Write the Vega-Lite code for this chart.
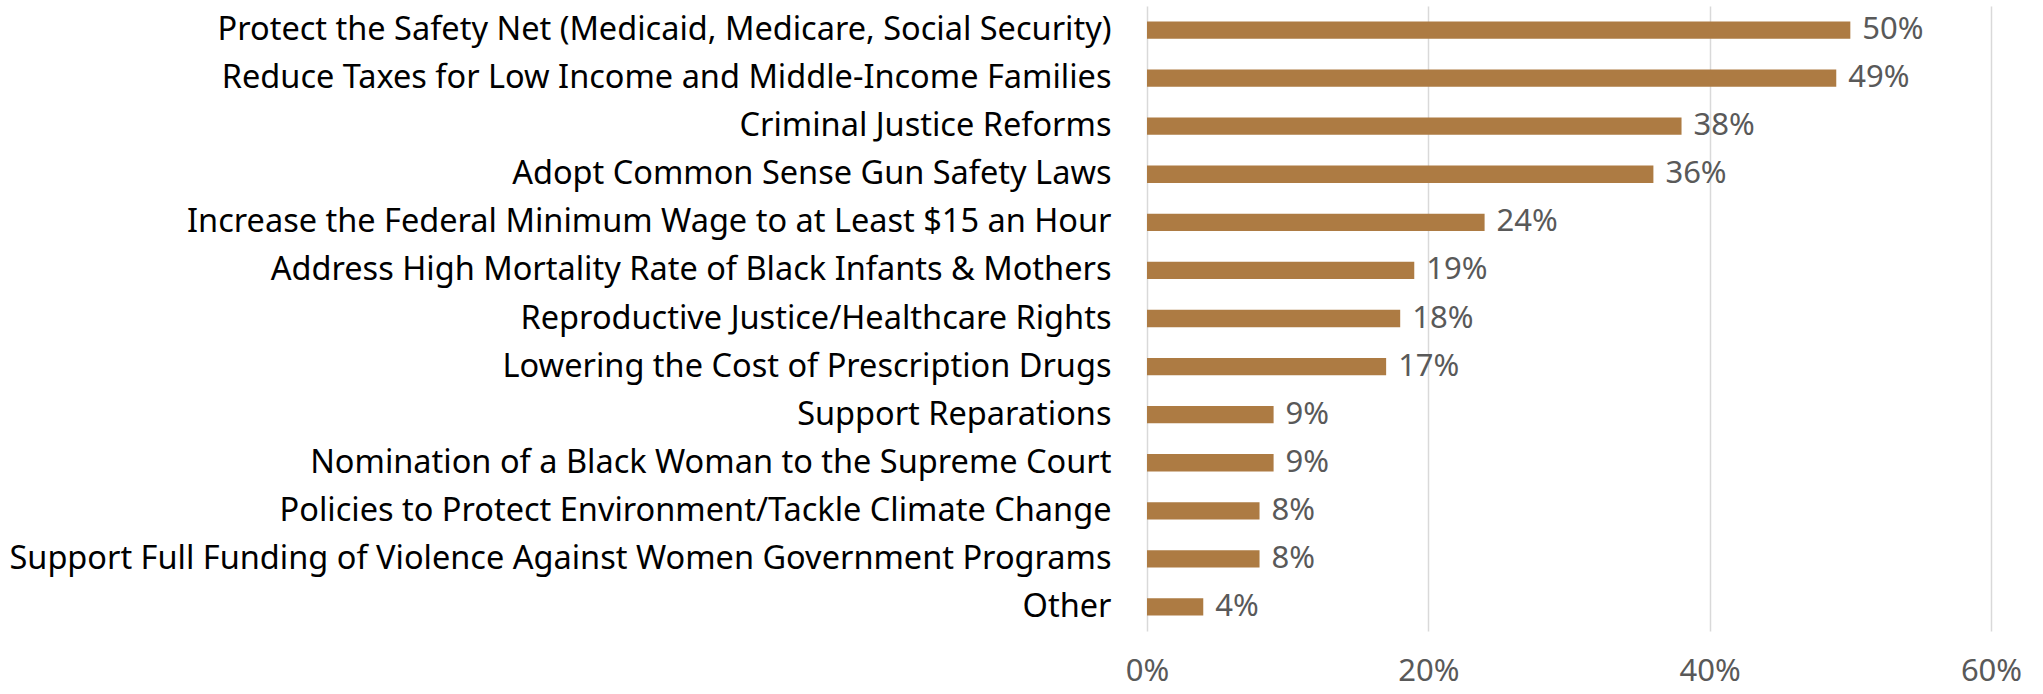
{
  "$schema": "https://vega.github.io/schema/vega-lite/v6.json",
  "autosize": {"type": "none"},
  "width": 844,
  "height": 625,
  "padding": {"left": 1147, "top": 6, "right": 52, "bottom": 63},
  "background": "white",
  "data": {"values": [
    {"issue": "Protect the Safety Net (Medicaid, Medicare, Social Security)", "pct": 0.50},
    {"issue": "Reduce Taxes for Low Income and Middle-Income Families", "pct": 0.49},
    {"issue": "Criminal Justice Reforms", "pct": 0.38},
    {"issue": "Adopt Common Sense Gun Safety Laws", "pct": 0.36},
    {"issue": "Increase the Federal Minimum Wage to at Least $15 an Hour", "pct": 0.24},
    {"issue": "Address High Mortality Rate of Black Infants & Mothers", "pct": 0.19},
    {"issue": "Reproductive Justice/Healthcare Rights", "pct": 0.18},
    {"issue": "Lowering the Cost of Prescription Drugs", "pct": 0.17},
    {"issue": "Support Reparations", "pct": 0.09},
    {"issue": "Nomination of a Black Woman to the Supreme Court", "pct": 0.09},
    {"issue": "Policies to Protect Environment/Tackle Climate Change", "pct": 0.08},
    {"issue": "Support Full Funding of Violence Against Women Government Programs", "pct": 0.08},
    {"issue": "Other", "pct": 0.04}
  ]},
  "config": {
    "view": {"stroke": null},
    "font": "Noto Sans"
  },
  "encoding": {
    "y": {"field": "issue", "type": "nominal", "sort": null,
      "scale": {"paddingInner": 0.64, "paddingOuter": 0.32},
      "axis": {"title": null, "ticks": false, "domain": false, "labelPadding": 36, "labelFontSize": 32.5, "labelColor": "#000000", "labelLimit": 1200, "labelFont": "Noto Sans"}},
    "x": {"field": "pct", "type": "quantitative",
      "scale": {"domain": [0, 0.6], "nice": false},
      "axis": {"title": null, "format": ".0%", "values": [0, 0.2, 0.4, 0.6], "ticks": false, "domain": false, "grid": true, "gridColor": "#d9d9d9", "gridWidth": 1.5, "labelFlush": false, "labelPadding": 49, "labelBaseline": "alphabetic", "labelFontSize": 31, "labelColor": "#595959", "labelFont": "Noto Sans"}}
  },
  "layer": [
    {"mark": {"type": "bar", "color": "#ad7b43"}},
    {"mark": {"type": "text", "align": "left", "baseline": "middle", "dx": 12, "fontSize": 31, "color": "#595959", "font": "Noto Sans"},
      "encoding": {"text": {"field": "pct", "type": "quantitative", "format": ".0%"}}}
  ]
}
